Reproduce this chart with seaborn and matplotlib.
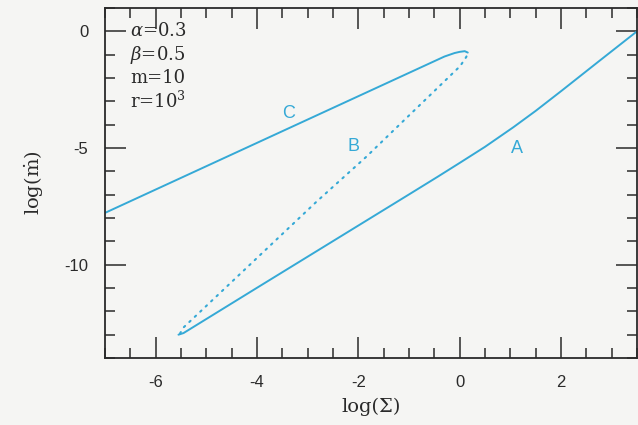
import matplotlib
matplotlib.use("Agg")
import matplotlib.pyplot as plt
import seaborn as sns
from matplotlib.ticker import MultipleLocator

# Curve A (solid, lower branch)
a_x = [-5.55, -5.45, -4.0, -2.5, -1.0, -0.44, 0.0, 0.5, 1.06, 1.5, 2.01, 2.75, 3.5]
a_y = [-13.0, -12.93, -10.99, -8.99, -6.99, -6.24, -5.64, -4.95, -4.11, -3.41, -2.55, -1.28, 0.0]

# Curve B (dotted, middle branch)
b_x = [-5.52, -5.45, -2.83, -1.85, 0.01, 0.13, 0.16]
b_y = [-12.95, -12.69, -7.31, -5.39, -1.49, -1.1, -0.95]

# Curve C (solid, upper branch)
c_x = [-7.0, -4.0, -1.5, -0.3, -0.1, 0.0, 0.1, 0.16]
c_y = [-7.78, -4.78, -2.28, -1.08, -0.93, -0.88, -0.85, -0.91]

# parameter block and curve labels
params = [r"$\alpha$=0.3", r"$\beta$=0.5", "m=10", r"r=10$^3$"]
param_y = [0, -1, -2, -3]
curve_names = ["A", "B", "C"]
name_x = [1.13, -2.09, -3.38]
name_y = [-5.03, -4.94, -3.53]

blue = "#35a9d6"
ink = "#2a2a2a"
paper = "#f5f5f3"

sns.set_style("ticks")
plt.rcParams["font.family"] = ["Liberation Sans", "DejaVu Sans"]
plt.rcParams["mathtext.fontset"] = "dejavuserif"
plt.rcParams["axes.unicode_minus"] = False

fig = plt.figure(figsize=(6.38, 4.25), dpi=100, facecolor=paper)
ax = fig.add_axes([0.1646, 0.1576, 0.8338, 0.8236], facecolor=paper)

sns.lineplot(x=a_x, y=a_y, sort=False, estimator=None, color=blue, lw=1.4, ax=ax)
sns.lineplot(x=c_x, y=c_y, sort=False, estimator=None, color=blue, lw=1.4, ax=ax)
sns.lineplot(x=b_x, y=b_y, sort=False, estimator=None, color=blue, lw=1.5,
             linestyle=(0, (0.8, 2.8)), dash_capstyle="round", ax=ax)

ax.set_xlim(-7, 3.5)
ax.set_ylim(-14, 1)

ax.xaxis.set_major_locator(MultipleLocator(2))
ax.xaxis.set_minor_locator(MultipleLocator(0.5))
ax.yaxis.set_major_locator(MultipleLocator(5))
ax.yaxis.set_minor_locator(MultipleLocator(1))
ax.tick_params(which="both", direction="in", top=True, right=True,
               color=ink, width=1.1, labelsize=12, labelcolor=ink)
ax.tick_params(which="major", length=15, pad=12)
ax.tick_params(which="minor", length=7)
for s in ax.spines.values():
    s.set_color(ink)
    s.set_linewidth(1.3)

ax.set_xlabel("log(Σ)", family="DejaVu Serif", fontsize=14, color=ink, labelpad=6)
ax.set_ylabel(r"log($\dot{\mathrm{m}}$)", family="DejaVu Serif", fontsize=14,
              color=ink, labelpad=14)

for t, yy in zip(params, param_y):
    ax.text(-6.5, yy, t, family="DejaVu Serif", fontsize=13, color=ink,
            ha="left", va="center")

for n, xx, yy in zip(curve_names, name_x, name_y):
    ax.text(xx, yy, n, fontsize=13, color=blue, ha="center", va="center")

fig.savefig("out.png", dpi=100, facecolor=paper)
